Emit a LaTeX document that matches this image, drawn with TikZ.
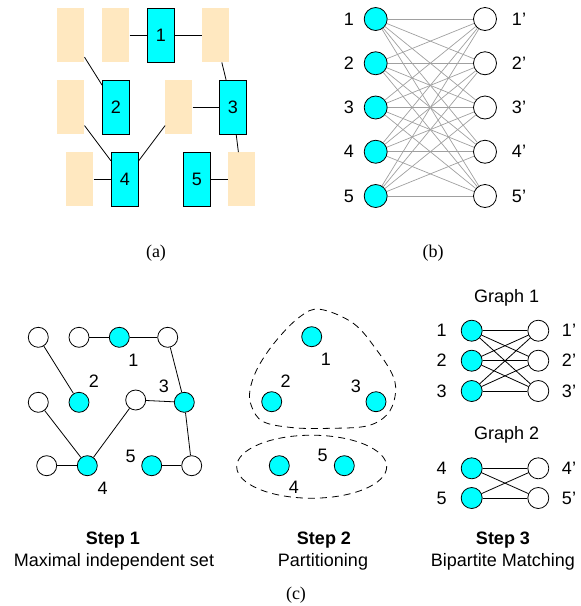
\documentclass[tikz,border=0pt]{standalone}
\usepackage{fontspec}
\setmainfont{Liberation Sans}
\newfontfamily\capfont{Liberation Serif}

\definecolor{vcyan}{RGB}{0,255,255}
\definecolor{vtan}{RGB}{255,232,192}
\definecolor{vgray}{RGB}{160,160,160}

\tikzset{
	cyanbox/.style = {draw = black, fill = vcyan, line width = 0.8pt, minimum width = 27pt, minimum height = 54pt, inner sep = 0pt},
	tanbox/.style = {fill = vtan, minimum width = 27pt, minimum height = 54pt, inner sep = 0pt},
	cyandot/.style = {circle, draw = black, fill = vcyan, line width = 0.8pt, minimum size = #1, inner sep = 0pt},
	whitedot/.style = {circle, draw = black, fill = white, line width = 0.8pt, minimum size = #1, inner sep = 0pt},
	cyandot/.default = 20pt,
	whitedot/.default = 20pt,
	txt/.style = {inner sep = 0pt},
	edge/.style = {line width = 0.8pt}
}

\begin{document}

\begin{tikzpicture}[x = 1pt, y = -1pt, font = \fontsize{18}{22}\selectfont]

	% Page
	
	\useasboundingbox (0, 0) rectangle (581, 606);

	% (a) Blocks
	
	\node [tanbox] (t11) at (70.8, 35.3) {};
	\node [tanbox] (t12) at (115.8, 35.3) {};
	\node [cyanbox] (b1) at (160.8, 35.3) {1};
	\node [tanbox] (t14) at (215.2, 35.3) {};
	
	\node [tanbox] (t21) at (70.8, 107.3) {};
	\node [cyanbox] (b2) at (116, 107.3) {2};
	\node [tanbox] (t23) at (178.8, 107.3) {};
	\node [cyanbox] (b3) at (232.8, 107.3) {3};
	
	\node [tanbox] (t31) at (79.8, 179.3) {};
	\node [cyanbox] (b4) at (124.8, 179.3) {4};
	\node [cyanbox] (b5) at (196.8, 179.3) {5};
	\node [tanbox] (t35) at (241.8, 179.3) {};
	
	\begin{scope}[edge]
	
		\draw (t12) -- (b1);
		\draw (b1) -- (t14);
		\draw (t11) -- (b2);
		\draw (t14) -- (b3);
		\draw (t23) -- (b3);
		\draw (b3) -- (t35);
		\draw (t21) -- (b4);
		\draw (t23) -- (b4);
		\draw (t31) -- (b4);
		\draw (b5) -- (t35);
	
	\end{scope}
	
	\node [txt, font = \capfont\fontsize{18}{22}\selectfont] (capa) at (156, 253) {(a)};
	
	% (b) Complete bipartite graph
	
	\foreach \i/\y in {1/19, 2/63.25, 3/107.5, 4/151.75, 5/196}
	{
		\node [cyandot = 23pt] (l\i) at (375.7, \y) {};
		\node [whitedot = 23pt] (r\i) at (485, \y) {};
		\node [txt] (ll\i) at (349, \y) {\i};
		\node [txt] (rl\i) at (519, \y) {\i’};
	}
	
	\foreach \i in {1, ..., 5}
	\foreach \j in {1, ..., 5}
	{
		\draw [vgray, line width = 0.7pt] (l\i) -- (r\j);
	}
	
	\node [txt, font = \capfont\fontsize{18}{22}\selectfont] (capb) at (433, 253) {(b)};
	
	% (c) Step 1: maximal independent set
	
	\node [whitedot] (w11) at (38.3, 337.3) {};
	\node [whitedot] (w12) at (79, 337.3) {};
	\node [cyandot] (c1) at (119.3, 337.3) {};
	\node [whitedot] (w14) at (167.7, 337.3) {};
	
	\node [whitedot] (w21) at (38.3, 402.3) {};
	\node [cyandot] (c2) at (79, 402.3) {};
	\node [whitedot] (w23) at (135.7, 400) {};
	\node [cyandot] (c3) at (184.3, 402.3) {};
	
	\node [whitedot] (w31) at (46.7, 465.7) {};
	\node [cyandot] (c4) at (87.3, 465.7) {};
	\node [cyandot] (c5) at (151.7, 465.7) {};
	\node [whitedot] (w34) at (191.7, 465.7) {};
	
	\node [txt] (cl1) at (133.3, 360) {1};
	\node [txt] (cl2) at (94, 381.7) {2};
	\node [txt] (cl3) at (164, 386.7) {3};
	\node [txt] (cl4) at (102.7, 488.3) {4};
	\node [txt] (cl5) at (130.7, 456.7) {5};
	
	\begin{scope}[edge]
	
		\draw (w12) -- (c1);
		\draw (c1) -- (w14);
		\draw (w11) -- (c2);
		\draw (w14) -- (c3);
		\draw (w23) -- (c3);
		\draw (c3) -- (w34);
		\draw (w21) -- (c4);
		\draw (w23) -- (c4);
		\draw (w31) -- (c4);
		\draw (c5) -- (w34);
	
	\end{scope}
	
	% (c) Step 2: partitioning
	
	\node [cyandot] (p1) at (311.7, 336.7) {};
	\node [cyandot] (p2) at (271.7, 401.7) {};
	\node [cyandot] (p3) at (376, 401.7) {};
	\node [cyandot] (p4) at (279.3, 465.7) {};
	\node [cyandot] (p5) at (344.3, 465.7) {};
	
	\node [txt] (pl1) at (326, 359.3) {1};
	\node [txt] (pl2) at (285.7, 381) {2};
	\node [txt] (pl3) at (356, 386) {3};
	\node [txt] (pl4) at (294, 487.7) {4};
	\node [txt] (pl5) at (322.7, 455) {5};
	
	\begin{scope}[line width = 0.8pt, dash pattern = on 7pt off 5pt]
	
		\draw plot [smooth cycle, tension = 0.6] coordinates {(320, 309.3) (353.3, 323.3) (376.7, 350) (393.3, 376.7) (395, 396.7) (386.7, 415) (366.7, 426) (330, 428.3) (293.3, 427.7) (263.3, 421.7) (251.7, 406.7) (250, 390) (258.3, 366.7) (276.7, 340) (300, 316.7)};
		\draw (311.7, 466.7) ellipse [x radius = 75, y radius = 31.5];
	
	\end{scope}
	
	% (c) Step 3: bipartite matching
	
	\node [txt] (g1) at (506.7, 298.3) {Graph 1};
	\node [txt] (g2) at (506.7, 435) {Graph 2};
	
	\foreach \i/\y in {1/330.7, 2/360.7, 3/391, 4/468.3, 5/498}
	{
		\node [cyandot = 21pt] (ml\i) at (471.7, \y) {};
		\node [whitedot = 21pt] (mr\i) at (538.3, \y) {};
		\node [txt] (mll\i) at (441.7, \y) {\i};
		\node [txt] (mrl\i) at (569, \y) {\i’};
	}
	
	\foreach \i in {1, 2, 3}
	\foreach \j in {1, 2, 3}
	{
		\draw [edge] (ml\i) -- (mr\j);
	}
	
	\foreach \i in {4, 5}
	\foreach \j in {4, 5}
	{
		\draw [edge] (ml\i) -- (mr\j);
	}
	
	% Step captions
	
	\node [txt, font = \bfseries\fontsize{18}{22}\selectfont] (s1) at (113, 540) {Step 1};
	\node [txt] (d1) at (114, 562) {Maximal independent set};
	\node [txt, font = \bfseries\fontsize{18}{22}\selectfont] (s2) at (324, 540) {Step 2};
	\node [txt] (d2) at (323, 562) {Partitioning};
	\node [txt, font = \bfseries\fontsize{18}{22}\selectfont] (s3) at (503, 540) {Step 3};
	\node [txt] (d3) at (503, 562) {Bipartite Matching};
	
	\node [txt, font = \capfont\fontsize{18}{22}\selectfont] (capc) at (296, 595) {(c)};

\end{tikzpicture}

\end{document}
